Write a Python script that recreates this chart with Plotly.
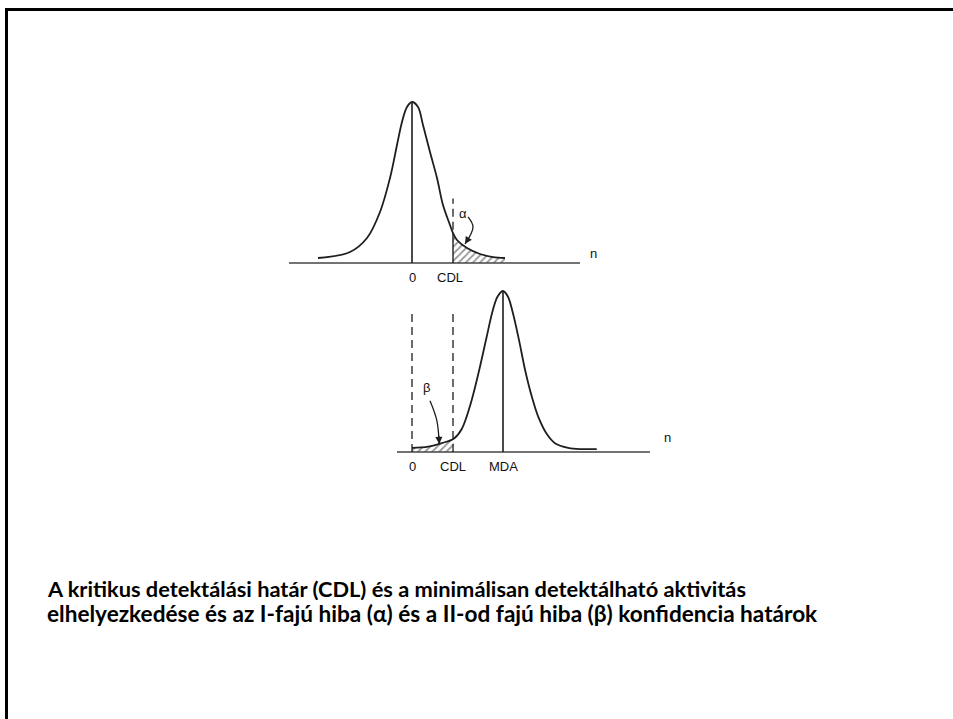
import plotly.graph_objects as go

# ---------------- data ----------------
# Top distribution (background, centred on 0); x in units of n, y relative height
top_x = [-3.76, -2.48, -1.80, -1.28, -0.88, -0.60, -0.40, -0.20, 0.0, 0.24, 0.44, 0.72,
         1.00, 1.24, 1.52, 1.64, 1.80, 2.20, 2.72, 3.24, 3.72]
top_y = [0.031, 0.068, 0.155, 0.317, 0.528, 0.733, 0.876, 0.969, 1.0, 0.969, 0.857, 0.689,
         0.528, 0.360, 0.236, 0.186, 0.143, 0.093, 0.056, 0.037, 0.031]
# alpha tail (hatched), x >= CDL
alpha_x = [1.64, 1.80, 2.20, 2.72, 3.24, 3.72]
alpha_y = [0.186, 0.143, 0.093, 0.056, 0.037, 0.031]

# Bottom distribution (centred on MDA)
bot_x = [0.0, 0.65, 1.19, 1.68, 1.99, 2.32, 2.65, 2.97, 3.23, 3.43, 3.64, 3.83, 4.01,
         4.27, 4.53, 4.80, 5.06, 5.40, 5.72, 6.25, 6.79, 7.39]
bot_y = [0.026, 0.033, 0.055, 0.084, 0.143, 0.286, 0.484, 0.703, 0.879, 0.967, 1.0, 0.967,
         0.879, 0.703, 0.505, 0.340, 0.215, 0.110, 0.055, 0.026, 0.018, 0.018]
# beta tail (hatched), x <= CDL
beta_x = [0.0, 0.65, 1.19, 1.68]
beta_y = [0.026, 0.033, 0.055, 0.084]

CDL = 1.64
MDA = 3.64
top_axis_x = [-4.92, 6.72]
bot_axis_x = [-0.60, 9.52]
top_tick_labels = ["0", "CDL"]
top_tick_pos = [0.0, 1.52]
bot_tick_labels = ["0", "CDL", "MDA"]
bot_tick_pos = [0.0, 1.64, 3.64]

alpha_arrow_x = [2.24, 2.44, 2.12]
alpha_arrow_y = [0.286, 0.224, 0.118]
beta_arrow_x = [0.72, 0.99, 1.09]
beta_arrow_y = [0.319, 0.198, 0.050]

caption_1 = "A kritikus detektálási határ (CDL) és a minimálisan detektálható aktivitás"
caption_2 = "elhelyezkedése és az I-fajú hiba (α) és a II-od fajú hiba (β) konfidencia határok"

# ---------------- figure ----------------
W, H = 953, 719
INK = "#1e1e1e"
fig = go.Figure()

def line(x, y, ya, width=1.6, dash="solid", shape="linear", color=INK):
    fig.add_trace(go.Scatter(x=x, y=y, mode="lines", yaxis=ya, hoverinfo="skip",
                             line=dict(color=color, width=width, dash=dash, shape=shape,
                                       smoothing=1.0), showlegend=False))

# --- top diagram (yaxis 'y') ---
fig.add_trace(go.Scatter(x=alpha_x, y=alpha_y, mode="lines", yaxis="y", fill="tozeroy",
                         fillcolor="rgba(0,0,0,0)", hoverinfo="skip", showlegend=False,
                         line=dict(width=0, shape="spline"),
                         fillpattern=dict(shape="/", size=5, solidity=0.35,
                                          fgcolor="#333333", bgcolor="white")))
line(top_axis_x, [0, 0], "y", width=1.6, color="#444444")
line(top_x, top_y, "y", width=1.8, shape="spline")
line([0, 0], [0, 1.0], "y", width=1.6)
line([CDL, CDL], [0, alpha_y[0]], "y", width=1.4)
line([CDL, CDL], [alpha_y[0] + 0.02, 0.40], "y", width=1.3, dash="8px,5px")
line(alpha_arrow_x, alpha_arrow_y, "y", width=1.3, shape="spline")

# --- bottom diagram (yaxis 'y2') ---
fig.add_trace(go.Scatter(x=beta_x, y=beta_y, mode="lines", yaxis="y2", fill="tozeroy",
                         fillcolor="rgba(0,0,0,0)", hoverinfo="skip", showlegend=False,
                         line=dict(width=0, shape="spline"),
                         fillpattern=dict(shape="/", size=5, solidity=0.35,
                                          fgcolor="#333333", bgcolor="white")))
line(bot_axis_x, [0, 0], "y2", width=1.6, color="#444444")
line(bot_x, bot_y, "y2", width=1.8, shape="spline")
line([MDA, MDA], [0, 1.0], "y2", width=1.6)
line([0, 0], [0, 0.876], "y2", width=1.3, dash="8px,5px")
line([CDL, CDL], [0, 0.876], "y2", width=1.3, dash="8px,5px")
line(beta_arrow_x, beta_arrow_y, "y2", width=1.3, shape="spline")

annotations = []
lab_font = dict(family="Liberation Sans, Arial", size=13, color="#111111")
for t, xv in zip(top_tick_labels, top_tick_pos):
    annotations.append(dict(x=xv, y=-0.093, xref="x", yref="y", text=t, showarrow=False,
                            font=lab_font, xanchor="center", yanchor="middle"))
for t, xv in zip(bot_tick_labels, bot_tick_pos):
    annotations.append(dict(x=xv, y=-0.093, xref="x", yref="y2", text=t, showarrow=False,
                            font=lab_font, xanchor="center", yanchor="middle"))
annotations.append(dict(x=top_axis_x[1] + 0.52, y=0.056, xref="x", yref="y", text="n",
                        showarrow=False, font=lab_font))
annotations.append(dict(x=bot_axis_x[1] + 0.68, y=0.093, xref="x", yref="y2", text="n",
                        showarrow=False, font=lab_font))
annotations.append(dict(x=2.04, y=0.31, xref="x", yref="y", text="α", showarrow=False,
                        font=lab_font))
annotations.append(dict(x=0.58, y=0.40, xref="x", yref="y2", text="β", showarrow=False,
                        font=lab_font))
# arrow heads
annotations.append(dict(x=alpha_arrow_x[-1], y=alpha_arrow_y[-1], xref="x", yref="y",
                        ax=alpha_arrow_x[-1] + 0.12, ay=alpha_arrow_y[-1] + 0.03,
                        axref="x", ayref="y", text="", showarrow=True, arrowhead=2,
                        arrowsize=1.1, arrowwidth=1.3, arrowcolor=INK))
annotations.append(dict(x=beta_arrow_x[-1], y=beta_arrow_y[-1], xref="x", yref="y2",
                        ax=beta_arrow_x[-1] - 0.02, ay=beta_arrow_y[-1] + 0.06,
                        axref="x", ayref="y2", text="", showarrow=True, arrowhead=2,
                        arrowsize=1.1, arrowwidth=1.3, arrowcolor=INK))
# caption
cap_family = "Lato, Carlito, Calibri, sans-serif"
annotations.append(dict(x=45 / W, y=1 - 588 / H, xref="paper", yref="paper",
                        text="<b>" + caption_1 + "</b>", showarrow=False,
                        font=dict(family=cap_family, size=21.8, color="#000000"),
                        xanchor="left", yanchor="middle"))
annotations.append(dict(x=45 / W, y=1 - 613 / H, xref="paper", yref="paper",
                        text="<b>" + caption_2 + "</b>", showarrow=False,
                        font=dict(family=cap_family, size=22.6, color="#000000"),
                        xanchor="left", yanchor="middle"))

# slide frame (only the top and left edges are visible in the crop)
shapes = [
    dict(type="line", xref="paper", yref="paper", x0=5 / W, x1=1.0, y0=1 - 9.5 / H,
         y1=1 - 9.5 / H, line=dict(color="black", width=3)),
    dict(type="line", xref="paper", yref="paper", x0=6.5 / W, x1=6.5 / W, y0=0,
         y1=1 - 8 / H, line=dict(color="black", width=3)),
]

fig.update_layout(
    width=W, height=H, autosize=False,
    margin=dict(l=0, r=0, t=0, b=0),
    paper_bgcolor="white", plot_bgcolor="white",
    xaxis=dict(range=[-412 / 25, (W - 412) / 25], visible=False, fixedrange=True),
    yaxis=dict(range=[(263 - H) / 161, 263 / 161], visible=False, domain=[0, 1]),
    yaxis2=dict(range=[(452 - H) / 161, 452 / 161], visible=False, overlaying="y"),
    annotations=annotations, shapes=shapes, showlegend=False,
)

fig.write_html("out.html", config={"displayModeBar": False},
               post_script="var gd=document.getElementById('{plot_id}');"
                           "gd.style.position='fixed';gd.style.left='0px';gd.style.top='0px';")
